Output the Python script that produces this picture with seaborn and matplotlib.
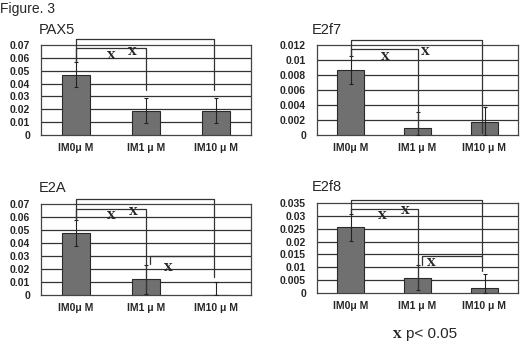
import matplotlib
matplotlib.use("Agg")
import matplotlib.pyplot as plt
import seaborn as sns
import pandas as pd

sns.set_theme(style="white")
plt.rcParams['font.family'] = ['Liberation Sans', 'DejaVu Sans']

categories = ["IM0\u03bc M", "IM1 \u03bc M", "IM10 \u03bc M"]

titles = ["PAX5", "E2f7", "E2A", "E2f8"]
pax5_values = [0.047, 0.019, 0.019]
pax5_err = [0.010, 0.010, 0.0095]
e2f7_values = [0.0087, 0.0010, 0.0017]
e2f7_err = [0.0019, 0.0021, 0.0020]
e2a_values = [0.048, 0.012, 0.0]
e2a_err = [0.010, 0.011, 0.010]
e2f8_values = [0.0255, 0.0060, 0.0020]
e2f8_err = [0.0053, 0.0050, 0.0053]

ymax = [0.07, 0.012, 0.07, 0.035]
ystep = [0.01, 0.002, 0.01, 0.005]
ytick_labels = [
    ["0", "0.01", "0.02", "0.03", "0.04", "0.05", "0.06", "0.07"],
    ["0", "0.002", "0.004", "0.006", "0.008", "0.01", "0.012"],
    ["0", "0.01", "0.02", "0.03", "0.04", "0.05", "0.06", "0.07"],
    ["0", "0.005", "0.01", "0.015", "0.02", "0.025", "0.03", "0.035"],
]

# brackets: (x_left, y_left_start, y_top, x_right, y_right_end)
pax5_brackets = [(0, 0.057, 0.0745, 1.97, 0.035), (0, 0.057, 0.0677, 1.0, 0.035)]
pax5_stars = [(0.5, 0.062), (0.8, 0.0646)]
e2f7_brackets = [(0, 0.0105, 0.0127, 1.97, 0.0003), (0, 0.0105, 0.0115, 1.0, 0.0003)]
e2f7_stars = [(0.52, 0.0104), (1.12, 0.0111)]
e2a_brackets = [(0, 0.058, 0.0735, 1.97, 0.014), (0, 0.058, 0.066, 1.0, 0.003),
                (1.06, 0.024, 0.030, 1.97, 0.030)]
e2a_stars = [(0.5, 0.0615), (0.82, 0.0646), (1.32, 0.0215)]
e2f8_brackets = [(0, 0.031, 0.0362, 1.97, 0.0086), (0, 0.031, 0.0327, 1.0, 0.0015),
                 (1.07, 0.011, 0.0145, 1.97, 0.0145)]
e2f8_stars = [(0.48, 0.0303), (0.82, 0.032), (1.2, 0.012)]

values = [pax5_values, e2f7_values, e2a_values, e2f8_values]
errs = [pax5_err, e2f7_err, e2a_err, e2f8_err]
brackets = [pax5_brackets, e2f7_brackets, e2a_brackets, e2f8_brackets]
stars = [pax5_stars, e2f7_stars, e2a_stars, e2f8_stars]

W, H = 520, 342
fig = plt.figure(figsize=(W / 100, H / 100), dpi=100)
fig.patch.set_facecolor("white")

# pixel boxes: left, top, right, bottom
boxes = [(41, 45, 251, 135), (317, 45, 518, 135), (41, 204, 251, 295), (317, 203, 518, 293)]
title_pos = [(39, 34), (312, 34), (39, 192), (312, 191)]

for i in range(4):
    l, t, r, b = boxes[i]
    ax = fig.add_axes([l / W, 1 - b / H, (r - l) / W, (b - t) / H])
    df = pd.DataFrame({"cat": categories, "val": values[i]})
    sns.barplot(data=df, x="cat", y="val", ax=ax, color="#707070",
                edgecolor="#2a2a2a", linewidth=0.8, width=0.4, saturation=1, zorder=3)
    v = values[i]
    e = errs[i]
    lower = [min(e[k], v[k]) for k in range(3)]
    ax.errorbar(range(3), v, yerr=[lower, e], fmt="none", ecolor="#222222",
                elinewidth=0.8, capsize=1.5, capthick=0.8, zorder=4)
    ax.set_xlim(-0.5, 2.5)
    ax.set_ylim(0, ymax[i])
    nt = len(ytick_labels[i])
    ticks = [k * ystep[i] for k in range(nt)]
    ax.set_yticks(ticks)
    ax.set_yticklabels(ytick_labels[i], fontsize=7.5, fontweight="bold")
    ax.set_xticks(range(3))
    ax.set_xticklabels(categories, fontsize=7.5, fontweight="bold")
    ax.set_xticks([0.5, 1.5], minor=True)
    ax.tick_params(axis="y", length=0, pad=8)
    ax.tick_params(axis="x", which="major", length=0, pad=6)
    ax.tick_params(axis="x", which="minor", length=3, direction="in", width=0.8, color="#333333")
    ax.set_xlabel("")
    ax.set_ylabel("")
    for yv in ticks[1:-1]:
        ax.axhline(yv, color="#333333", lw=0.9, zorder=1)
    for s in ax.spines.values():
        s.set_visible(True)
        s.set_color("#444444")
        s.set_linewidth(0.9)
    for (xl, y0, yt, xr, y1) in brackets[i]:
        ax.plot([xl, xl, xr, xr], [y0, yt, yt, y1], color="#333333", lw=0.9,
                clip_on=False, zorder=5)
    for (sx, sy) in stars[i]:
        ax.text(sx, sy, "X", family="DejaVu Serif", fontweight="bold", fontsize=8,
                ha="center", va="center", zorder=6)
    tx, ty = title_pos[i]
    fig.text(tx / W, 1 - ty / H, titles[i], fontsize=10.5, ha="left", va="baseline")

fig.text(0 / W, 1 - 13 / H, "Figure. 3", fontsize=10, ha="left", va="baseline")
fig.text(397 / W, 1 - 334 / H, "X", family="DejaVu Serif", fontweight="bold",
         fontsize=8, ha="center", va="center")
fig.text(406 / W, 1 - 334 / H, "p< 0.05", fontsize=11, ha="left", va="center")

fig.savefig("out.png", dpi=100, facecolor="white")
